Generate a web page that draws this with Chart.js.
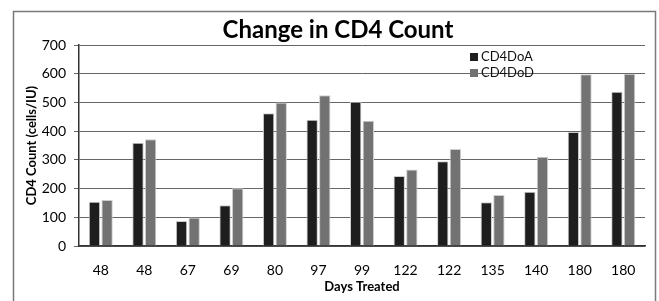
<!DOCTYPE html>
<html lang="en">
  <head>
    <meta charset="UTF-8" />
    <title>Change in CD4 Count</title>
    <style>
      html, body { margin: 0; padding: 0; background: #fff; }
      .chart-box { position: relative; width: 659px; height: 301px; }
    </style>
  </head>
  <body>
    <div class="chart-box">
      <canvas id="myChart" width="659" height="301"></canvas>
    </div>

    <script src="https://cdn.jsdelivr.net/npm/chart.js"></script>

    <script>
      const days = ["48", "48", "67", "69", "80", "97", "99", "122", "122", "135", "140", "180", "180"];
      const cd4DoA = [154, 360, 87, 142, 462, 440, 502, 244, 295, 152, 189, 397, 537];
      const cd4DoD = [160, 372, 99, 201, 500, 525, 436, 266, 338, 178, 311, 598, 600];
      const yTicks = [0, 100, 200, 300, 400, 500, 600, 700];

      const font = "Lato, 'Open Sans', sans-serif";

      // frame, title and legend drawn by hand
      const extras = {
        id: "extras",
        beforeDraw(chart) {
          const c = chart.ctx;
          c.save();
          c.fillStyle = "#fff";
          c.fillRect(0, 0, chart.width, chart.height);
          c.strokeStyle = "#7a7a7a";
          c.lineWidth = 1.5;
          c.strokeRect(13.5, 11.5, 642, 300);
          c.restore();
        },
        afterDraw(chart) {
          const c = chart.ctx;
          c.save();
          c.fillStyle = "#000";
          c.font = "bold 24px " + font;
          c.textAlign = "center";
          c.textBaseline = "middle";
          c.fillText("Change in CD4 Count", 338, 30);

          c.font = "13px " + font;
          c.textAlign = "left";
          chart.data.datasets.forEach((ds, i) => {
            const y = 57 + i * 16;
            c.fillStyle = ds.backgroundColor;
            c.fillRect(470, y - 4, 8, 8);
            c.fillStyle = "#111";
            c.fillText(ds.label, 481, y);
          });
          c.restore();
        },
      };

      const ctx1 = document.getElementById("myChart");

      const chart1 = new Chart(ctx1, {
        type: "bar",
        data: {
          labels: days,
          datasets: [
            {
              label: "CD4DoA",
              data: cd4DoA,
              backgroundColor: "#1e1e1e",
              borderColor: "#cdcdcd",
              borderWidth: 1,
            },
            {
              label: "CD4DoD",
              data: cd4DoD,
              backgroundColor: "#727272",
              borderColor: "#cdcdcd",
              borderWidth: 1,
            },
          ],
        },
        options: {
          responsive: false,
          animation: false,
          devicePixelRatio: 1,
          categoryPercentage: 0.58,
          barPercentage: 0.9,
          layout: { padding: { top: 45, left: 0, right: 14, bottom: 0 } },
          plugins: {
            legend: { display: false },
            title: { display: false },
            tooltip: { enabled: false },
          },
          scales: {
            x: {
              afterFit: (s) => { s.height = 55; },
              grid: { display: false, drawTicks: false },
              border: { display: true, color: "#333", width: 1.5 },
              ticks: { color: "#000", font: { family: font, size: 14 }, padding: 16 },
              title: {
                display: true,
                text: "Days Treated",
                color: "#000",
                font: { family: font, size: 13, weight: "bold" },
                padding: { top: 0, bottom: 6 },
              },
            },
            y: {
              min: 0,
              max: 700,
              afterFit: (s) => { s.width = 79; },
              afterBuildTicks: (s) => { s.ticks = yTicks.map((v) => ({ value: v })); },
              grid: { color: "#666", lineWidth: 1, tickLength: 5, drawTicks: true },
              border: { display: true, color: "#333", width: 1.5 },
              ticks: { color: "#000", font: { family: font, size: 14 }, padding: 8 },
              title: {
                display: true,
                text: "CD4 Count (cells/IU)",
                color: "#000",
                font: { family: font, size: 13, weight: "bold" },
                padding: { top: 24, bottom: 0 },
              },
            },
          },
        },
        plugins: [extras],
      });
    </script>
  </body>
</html>
